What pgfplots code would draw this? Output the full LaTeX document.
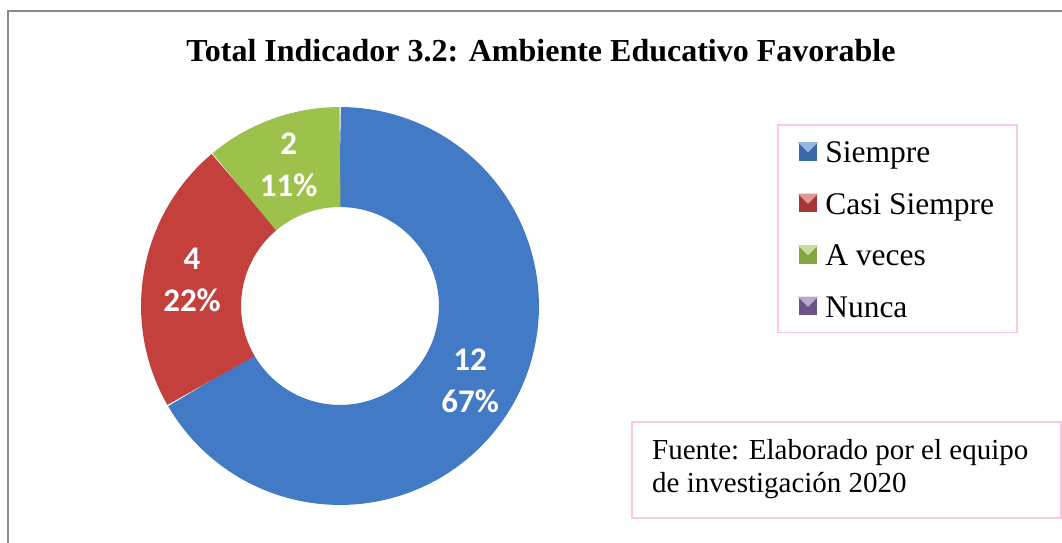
\documentclass[border=0pt]{standalone}
\usepackage{fontspec}
\setmainfont{Liberation Serif}
\newfontfamily\calib{Carlito}
\usepackage{pgfplots}
\pgfplotsset{compat=1.18}
\definecolor{cblue}{HTML}{427AC5}
\definecolor{cred}{HTML}{C3403C}
\definecolor{cgreen}{HTML}{9DC24B}
\definecolor{cpurple}{HTML}{7E62A1}
\definecolor{pinkb}{HTML}{FBC9E3}
\definecolor{framec}{HTML}{8A8A8A}
\pgfplotsset{sq/.style={legend image code/.code={%
  \fill[#1!85!black] (0pt,-8.5pt) rectangle (17pt,8.5pt);
  \fill[#1!55!white] (0pt,8.5pt) -- (17pt,8.5pt) -- (8.5pt,0pt) -- cycle;
  \path (23pt,0pt);}}}
% data: Siempre 12, Casi Siempre 4, A veces 2, Nunca 0
\def\vS{12}\def\vC{4}\def\vA{2}\def\vN{0}
\begin{document}
\begin{tikzpicture}[x=1pt,y=1pt]
\useasboundingbox (0pt,0pt) rectangle (1062pt,542pt);
\draw[framec, line width=2pt] (8pt,-5pt) -- (8pt,531pt) -- (1070pt,531pt);
\node[anchor=base, font=\fontsize{32}{38}\selectfont\bfseries] at (541pt,480pt) {Total Indicador 3.2: Ambiente Educativo Favorable};
\pgfmathsetmacro{\tot}{\vS+\vC+\vA+\vN}
\pgfmathsetmacro{\aA}{90}
\pgfmathsetmacro{\aB}{90-360*\vS/\tot}
\pgfmathsetmacro{\aC}{\aB-360*\vC/\tot}
\pgfmathsetmacro{\aD}{\aC-360*\vA/\tot}
\pgfmathsetmacro{\mS}{(\aA+\aB)/2}
\pgfmathsetmacro{\mC}{(\aB+\aC)/2}
\pgfmathsetmacro{\mA}{(\aC+\aD)/2}
\begin{axis}[at={(340pt,236pt)}, anchor=center, scale only axis,
  width=398pt, height=398pt, xmin=-1, xmax=1, ymin=-1, ymax=1,
  hide axis, clip=false, legend cell align=left,
  legend style={at={(1.598,0.957)}, anchor=north west, draw=pinkb, line width=1.5pt,
    font=\fontsize{31.5}{38}\selectfont, inner xsep=21pt, inner ysep=6pt,
    nodes={text height=30pt, text depth=7pt}, /tikz/row sep=10.5pt}]
% ring segments: stroke of width (1-0.497)*199pt centred on radius 0.7485
\addplot[cblue, line width=100pt, line join=round, domain=\aB:\aA, samples=120, no marks, forget plot] ({0.7485*cos(x)},{0.7485*sin(x)});
\addplot[cred, line width=100pt, line join=round, domain=\aC:\aB, samples=60, no marks, forget plot] ({0.7485*cos(x)},{0.7485*sin(x)});
\addplot[cgreen, line width=100pt, line join=round, domain=\aD:\aC, samples=40, no marks, forget plot] ({0.7485*cos(x)},{0.7485*sin(x)});
\node[font=\calib\bfseries\fontsize{33}{42}\selectfont, text=white, align=center] at (axis cs:{0.755*cos(\mS)},{0.755*sin(\mS)}) {\vS\\67\%};
\node[font=\calib\bfseries\fontsize{33}{42}\selectfont, text=white, align=center] at (axis cs:{0.755*cos(\mC)},{0.755*sin(\mC)}) {\vC\\22\%};
\node[font=\calib\bfseries\fontsize{33}{42}\selectfont, text=white, align=center] at (axis cs:{0.755*cos(\mA)},{0.755*sin(\mA)}) {\vA\\11\%};
\addlegendimage{sq=cblue}\addlegendentry{Siempre}
\addlegendimage{sq=cred}\addlegendentry{Casi Siempre}
\addlegendimage{sq=cgreen}\addlegendentry{A veces}
\addlegendimage{sq=cpurple}\addlegendentry{Nunca}
\end{axis}
\draw[pinkb, line width=1.5pt] (632pt,24pt) rectangle (1061pt,120pt);
\node[anchor=base west, inner sep=0pt, font=\fontsize{29}{33}\selectfont] at (652pt,83pt) {Fuente: Elaborado por el equipo};
\node[anchor=base west, inner sep=0pt, font=\fontsize{29}{33}\selectfont] at (652pt,50pt) {de investigación 2020};
\end{tikzpicture}
\end{document}
